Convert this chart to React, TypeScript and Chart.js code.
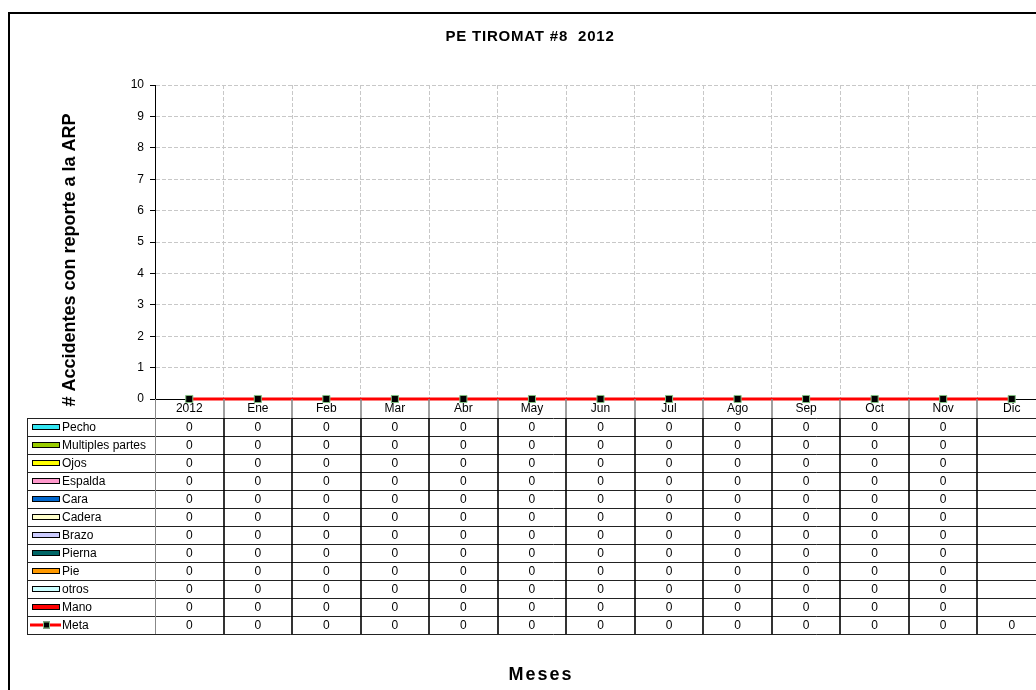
import { useEffect, useRef } from 'react';
import { Chart, registerables } from 'chart.js';

Chart.register(...registerables);

const categories = ['2012', 'Ene', 'Feb', 'Mar', 'Abr', 'May', 'Jun', 'Jul', 'Ago', 'Sep', 'Oct', 'Nov', 'Dic'];

const pecho = [0, 0, 0, 0, 0, 0, 0, 0, 0, 0, 0, 0, null];
const multiplesPartes = [0, 0, 0, 0, 0, 0, 0, 0, 0, 0, 0, 0, null];
const ojos = [0, 0, 0, 0, 0, 0, 0, 0, 0, 0, 0, 0, null];
const espalda = [0, 0, 0, 0, 0, 0, 0, 0, 0, 0, 0, 0, null];
const cara = [0, 0, 0, 0, 0, 0, 0, 0, 0, 0, 0, 0, null];
const cadera = [0, 0, 0, 0, 0, 0, 0, 0, 0, 0, 0, 0, null];
const brazo = [0, 0, 0, 0, 0, 0, 0, 0, 0, 0, 0, 0, null];
const pierna = [0, 0, 0, 0, 0, 0, 0, 0, 0, 0, 0, 0, null];
const pie = [0, 0, 0, 0, 0, 0, 0, 0, 0, 0, 0, 0, null];
const otros = [0, 0, 0, 0, 0, 0, 0, 0, 0, 0, 0, 0, null];
const mano = [0, 0, 0, 0, 0, 0, 0, 0, 0, 0, 0, 0, null];
const meta = [0, 0, 0, 0, 0, 0, 0, 0, 0, 0, 0, 0, 0];

const seriesNames = ['Pecho', 'Multiples partes', 'Ojos', 'Espalda', 'Cara', 'Cadera', 'Brazo', 'Pierna', 'Pie', 'otros', 'Mano'];
const seriesData = [pecho, multiplesPartes, ojos, espalda, cara, cadera, brazo, pierna, pie, otros, mano];
const seriesColors = ['#33E6F2', '#99CC00', '#FFFF00', '#FF99CC', '#0066CC', '#FFFFCC', '#CCCCFF', '#006666', '#FF9900', '#CCFFFF', '#FF0000'];

const yMin = 0;
const yMax = 10;
const yStep = 1;

const chartTitle = 'PE TIROMAT #8  2012';
const yTitle = '# Accidentes con reporte a la ARP';
const xTitle = 'Meses';
const metaName = 'Meta';

const FONT = '"Liberation Sans", Arial, sans-serif';
const W = 1080;
const H = 720;
const AREA_LEFT = 155;
const AREA_RIGHT = 1046;
const AREA_TOP = 85;
const AREA_BOTTOM = 399;
const HEADER_H = 19;
const ROW_H = 18;
const TABLE_LEFT = 27;

const decorPlugin = {
  id: 'decor',
  beforeDraw(chart: any) {
    const ctx = chart.ctx;
    ctx.save();
    ctx.fillStyle = '#fff';
    ctx.fillRect(0, 0, W, H);
    ctx.restore();
  },
  afterDraw(chart: any) {
    const ctx = chart.ctx;
    const xs = chart.scales.x;
    const area = chart.chartArea;
    const n = categories.length;
    const cw = (area.right - area.left) / n;
    const rowsTop = area.bottom + HEADER_H;
    const rowCount = seriesNames.length + 1;
    const tableBottom = rowsTop + rowCount * ROW_H;

    ctx.save();
    // frame
    ctx.strokeStyle = '#000';
    ctx.lineWidth = 2;
    ctx.strokeRect(9, 13, W, H);

    // title
    ctx.fillStyle = '#000';
    ctx.textAlign = 'center';
    ctx.textBaseline = 'middle';
    ctx.font = `bold 15px ${FONT}`;
    (ctx as any).letterSpacing = '0.8px';
    ctx.fillText(chartTitle, 530, 37);

    // x title
    ctx.font = `bold 18px ${FONT}`;
    (ctx as any).letterSpacing = '2px';
    ctx.fillText(xTitle, 541, 675);
    (ctx as any).letterSpacing = '0px';

    // y title
    ctx.save();
    ctx.translate(70, 260);
    ctx.rotate(-Math.PI / 2);
    ctx.font = `bold 18px ${FONT}`;
    ctx.fillText(yTitle, 0, 0);
    ctx.restore();

    // header labels
    ctx.font = `12px ${FONT}`;
    categories.forEach((c, i) => {
      ctx.fillText(c, xs.getPixelForValue(i), area.bottom + 10);
    });

    // table lines
    ctx.strokeStyle = '#222';
    ctx.lineWidth = 1;
    for (let r = 0; r <= rowCount; r++) {
      const y = Math.round(rowsTop + r * ROW_H) + 0.5;
      ctx.beginPath();
      ctx.moveTo(TABLE_LEFT, y);
      ctx.lineTo(W, y);
      ctx.stroke();
    }
    ctx.beginPath();
    ctx.moveTo(TABLE_LEFT + 0.5, rowsTop);
    ctx.lineTo(TABLE_LEFT + 0.5, tableBottom);
    ctx.stroke();
    ctx.strokeStyle = '#888';
    ctx.beginPath();
    ctx.moveTo(area.left + 0.5, area.bottom);
    ctx.lineTo(area.left + 0.5, tableBottom);
    ctx.stroke();
    ctx.lineWidth = 1.6;
    for (let k = 1; k <= n; k++) {
      const x = Math.round(area.left + k * cw);
      ctx.strokeStyle = '#888';
      ctx.beginPath();
      ctx.moveTo(x, area.bottom);
      ctx.lineTo(x, rowsTop);
      ctx.stroke();
      ctx.strokeStyle = '#000';
      ctx.beginPath();
      ctx.moveTo(x, rowsTop);
      ctx.lineTo(x, tableBottom);
      ctx.stroke();
    }

    // rows
    ctx.font = `12px ${FONT}`;
    seriesNames.forEach((name, r) => {
      const cy = rowsTop + r * ROW_H + ROW_H / 2;
      ctx.fillStyle = seriesColors[r];
      ctx.fillRect(32, cy - 2.5, 28, 5);
      ctx.strokeStyle = '#000';
      ctx.lineWidth = 1;
      ctx.strokeRect(32.5, Math.round(cy - 3) + 0.5, 27, 5);
      ctx.fillStyle = '#000';
      ctx.textAlign = 'left';
      ctx.fillText(name, 62, cy + 0.5);
      ctx.textAlign = 'center';
      seriesData[r].forEach((v, i) => {
        if (v !== null && v !== undefined) ctx.fillText(String(v), xs.getPixelForValue(i), cy + 0.5);
      });
    });
    {
      const r = seriesNames.length;
      const cy = rowsTop + r * ROW_H + ROW_H / 2;
      ctx.strokeStyle = '#FF0000';
      ctx.lineWidth = 3;
      ctx.beginPath();
      ctx.moveTo(30, cy);
      ctx.lineTo(61, cy);
      ctx.stroke();
      ctx.fillStyle = '#000';
      ctx.fillRect(43, cy - 3.5, 7, 7);
      ctx.strokeStyle = '#80C080';
      ctx.lineWidth = 1;
      ctx.strokeRect(43.5, cy - 3, 6, 6);
      ctx.fillStyle = '#000';
      ctx.textAlign = 'left';
      ctx.fillText(metaName, 62, cy + 0.5);
      ctx.textAlign = 'center';
      meta.forEach((v, i) => {
        if (v !== null && v !== undefined) ctx.fillText(String(v), xs.getPixelForValue(i), cy + 0.5);
      });
    }
    ctx.restore();
  },
};

export default function App() {
  const ref = useRef<HTMLCanvasElement | null>(null);

  useEffect(() => {
    if (!ref.current) return;
    const datasets: any[] = seriesNames.map((name, i) => ({
      type: 'bar',
      label: name,
      data: seriesData[i],
      backgroundColor: seriesColors[i],
      borderWidth: 0,
      order: 2,
    }));
    datasets.push({
      type: 'line',
      label: metaName,
      data: meta,
      borderColor: '#FF0000',
      borderWidth: 3,
      pointStyle: 'rect',
      pointRadius: 5,
      pointBackgroundColor: '#000',
      pointBorderColor: '#80C080',
      pointBorderWidth: 1,
      tension: 0,
      clip: false,
      order: 1,
    });

    const chart = new Chart(ref.current, {
      type: 'bar',
      data: { labels: categories, datasets },
      options: {
        responsive: false,
        maintainAspectRatio: false,
        animation: false,
        events: [],
        layout: { padding: { left: 0, right: W - AREA_RIGHT, top: AREA_TOP, bottom: 0 } },
        plugins: {
          legend: { display: false },
          tooltip: { enabled: false },
          title: { display: false },
        },
        scales: {
          x: {
            type: 'category',
            offset: true,
            stacked: true,
            grid: { display: true, offset: true, color: '#C8C8C8', drawTicks: false },
            border: { display: true, color: '#000', width: 1, dash: [4, 2] },
            ticks: { display: false },
            afterFit(s: any) {
              s.height = H - AREA_BOTTOM;
            },
          },
          y: {
            min: yMin,
            max: yMax,
            stacked: true,
            ticks: { stepSize: yStep, font: { family: FONT, size: 12 }, color: '#000', padding: 6 },
            grid: { color: '#C8C8C8', tickColor: '#000', tickLength: 5, drawTicks: true },
            border: { display: true, color: '#000', width: 1, dash: [4, 2] },
            afterFit(s: any) {
              s.width = AREA_LEFT;
            },
          },
        },
      } as any,
      plugins: [decorPlugin],
    });
    return () => chart.destroy();
  }, []);

  return (
    <div style={{ position: 'fixed', left: 0, top: 0, width: 1036, height: 690, overflow: 'hidden', background: '#fff' }}>
      <canvas ref={ref} width={W} height={H} style={{ display: 'block', width: W, height: H }} />
    </div>
  );
}
